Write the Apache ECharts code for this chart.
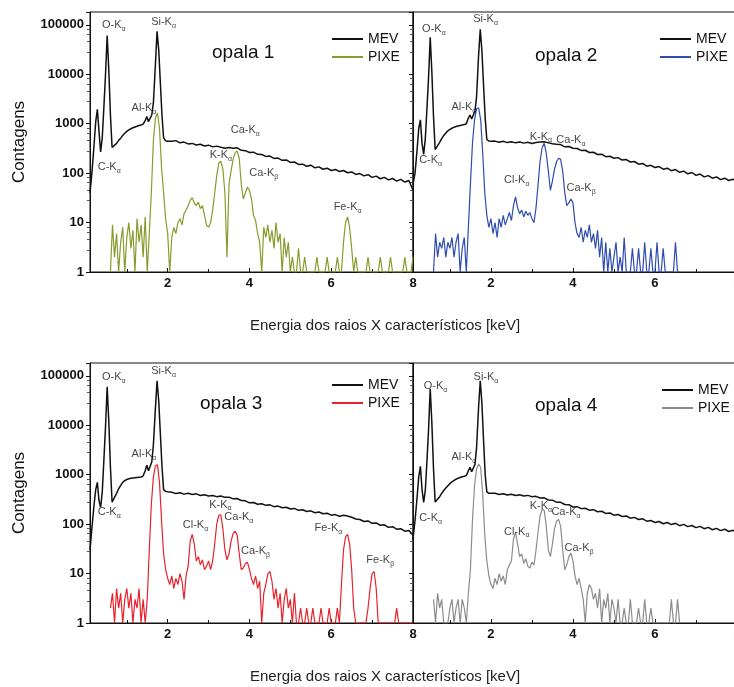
<!DOCTYPE html>
<html>
<head>
<meta charset="utf-8">
<script src="https://cdn.jsdelivr.net/npm/echarts@6/dist/echarts.min.js"></script>
<style>
  html, body { margin: 0; padding: 0; background: #fff; }
  #chart { width: 734px; height: 687px; }
</style>
</head>
<body>
<div id="chart"></div>
<script>
// energia (keV) dos canais MEV
var mevEnergy = [
  0.10,0.15,0.20,0.24,0.28,0.32,0.36,0.40,0.44,0.48,
  0.52,0.56,0.60,0.64,0.68,0.75,0.80,0.85,0.90,0.95,
  1.00,1.05,1.10,1.15,1.20,1.25,1.30,1.35,1.40,1.45,
  1.49,1.53,1.57,1.61,1.65,1.70,1.74,1.78,1.82,1.86,
  1.90,1.95,2.00,
  2.1,2.2,2.3,2.4,2.5,2.6,2.7,2.8,2.9,3.0,
  3.1,3.2,3.3,3.4,3.5,3.6,3.7,3.8,3.9,4.0,
  4.1,4.2,4.3,4.4,4.5,4.6,4.7,4.8,4.9,5.0,
  5.1,5.2,5.3,5.4,5.5,5.6,5.7,5.8,5.9,6.0,
  6.1,6.2,6.3,6.4,6.5,6.6,6.7,6.8,6.9,7.0,
  7.1,7.2,7.3,7.4,7.5,7.6,7.7,7.8,7.9,8.0
];
var mev1 = [
  40,110,380,1100,1950,700,270,520,2200,10000,
  61000,12000,1500,330,330,400,460,510,580,640,
  700,750,790,830,860,890,920,940,980,1150,
  1400,1100,1050,1500,2600,16000,74000,32000,7000,1500,
  520,450,440,
  440,455,410,425,390,400,372,385,355,368,
  340,352,335,320,330,318,325,290,285,262,
  266,240,238,218,222,198,202,182,185,165,
  168,150,152,138,145,128,134,120,126,113,
  119,108,113,102,106,94,98,88,93,82,
  87,77,82,73,78,69,75,66,71,45
];
var mev2 = [
  60,100,300,800,1200,400,240,500,2000,9000,
  56000,11000,1400,300,320,420,500,580,650,720,
  770,810,850,880,900,920,940,960,1000,1300,
  1500,1250,1200,1800,3500,25000,81000,30000,6000,1300,
  480,445,440,
  445,420,440,415,432,410,428,405,420,398,
  415,425,430,410,395,385,378,340,345,318,
  315,288,290,262,265,238,242,215,220,200,
  206,184,188,168,172,152,157,138,144,130,
  136,120,126,112,118,104,110,97,103,90,
  96,84,89,79,84,74,79,71,75,70
];
var mev3 = [
  30,90,250,500,700,300,218,450,2000,9500,
  60000,12000,1400,280,300,420,520,610,700,760,
  800,830,850,860,870,880,890,900,950,1200,
  1550,1200,1120,1800,4000,22000,79000,32000,7000,1500,
  500,460,450,
  440,415,432,405,420,398,410,380,392,372,
  380,360,372,348,352,325,330,300,296,270,
  274,252,258,240,246,226,232,214,220,202,
  208,190,196,180,186,170,176,162,166,152,
  156,144,152,146,138,127,124,113,116,104,
  106,95,97,86,89,79,81,72,74,60
];
var mev4 = [
  50,120,350,900,1480,500,275,480,1900,8500,
  55000,11000,1300,280,300,360,420,480,540,600,
  660,720,770,810,850,880,910,930,960,1200,
  1420,1150,1120,1600,3500,24000,79000,28000,5000,1000,
  450,420,420,
  420,398,412,388,402,380,392,370,382,360,
  365,338,340,308,306,278,276,250,248,222,
  226,206,210,192,196,178,182,165,168,152,
  157,143,146,132,137,124,128,115,119,108,
  113,102,108,98,104,93,99,89,94,85,
  90,81,86,77,82,74,79,71,75,68
];

// energia (keV) dos canais PIXE
var pixeEnergy = [
  0.55,0.60,0.65,0.70,0.75,0.80,0.85,0.90,0.95,1.00,
  1.05,1.10,1.15,1.20,1.25,1.30,1.35,1.40,1.45,1.50,
  1.55,1.60,1.65,1.70,1.75,1.80,1.85,1.90,1.95,2.00,
  2.05,2.10,2.15,2.20,2.25,2.30,2.35,2.40,2.45,2.50,
  2.55,2.60,2.65,2.70,2.75,2.80,2.85,2.90,2.95,3.00,
  3.05,3.10,3.15,3.20,3.25,3.30,3.35,3.40,3.45,3.50,
  3.55,3.60,3.65,3.70,3.75,3.80,3.85,3.90,3.95,4.00,
  4.05,4.10,4.15,4.20,4.25,4.30,4.35,4.40,4.45,4.50,
  4.55,4.60,4.65,4.70,4.75,4.80,4.85,4.90,4.95,5.00,
  5.05,5.10,5.15,5.20,5.25,5.30,5.35,5.40,5.45,5.50,
  5.55,5.60,5.65,5.70,5.75,5.80,5.85,5.90,5.95,6.00,
  6.05,6.10,6.15,6.20,6.25,6.30,6.35,6.40,6.45,6.50,
  6.55,6.60,6.65,6.70,6.75,6.80,6.85,6.90,6.95,7.00,
  7.05,7.10,7.15,7.20,7.25,7.30,7.35,7.40,7.45,7.50,
  7.55,7.60,7.65,7.70,7.75,7.80,7.85,7.90,7.95,8.00
];
var pixe1 = [
  null,1,9,2,6,1,4,8,1,5,
  10,3,7,1,12,4,9,2,13,1,
  6,40,450,1300,1650,800,130,40,12,6,
  1,5,8,6,10,12,9,15,18,22,
  28,32,25,22,26,19,22,14,9,8,
  10,18,40,90,160,175,120,40,2,60,
  110,190,260,280,200,60,30,40,52,45,
  30,14,11,6,4,1,8,5,9,4,
  7,3,10,4,6,1,5,2,4,1,
  2,1,1,3,1,1,2,1,1,1,
  1,1,2,1,1,1,1,2,1,1,
  1,1,2,1,1,4,10,13,8,3,
  1,2,1,1,1,1,1,2,1,1,
  1,1,1,2,1,1,1,1,2,1,
  1,1,1,1,1,2,1,1,1,2
];
var pixe2 = [
  null,1,6,2,4,3,5,2,4,3,
  5,2,4,6,1,3,5,1,8,60,
  400,1200,2000,2100,1200,250,40,14,8,12,
  6,10,5,12,8,14,9,12,16,11,
  22,33,20,15,18,13,17,14,16,12,
  10,20,60,180,330,400,250,110,45,70,
  120,170,200,190,110,40,22,25,30,25,
  10,6,5,8,4,7,5,9,4,6,
  3,7,2,5,1,4,1,3,1,2,
  4,1,2,1,5,1,1,1,3,1,
  1,3,1,1,4,1,1,3,1,1,
  4,1,1,3,1,1,1,1,1,4,
  1,1,null,null,null,null,null,null,null,null,
  null,null,null,null,null,null,null,null,null,null,
  null,null,null,null,null,null,null,null,null,null
];
var pixe3 = [
  null,2,4,1,5,2,4,1,3,5,
  2,4,1,3,2,5,1,3,1,3,
  30,250,900,1500,1600,700,120,25,12,8,
  6,9,5,8,6,10,7,3,9,14,
  45,62,40,18,22,15,19,12,14,18,
  12,18,40,100,150,155,80,30,19,25,
  45,65,72,60,25,12,13,16,17,12,
  8,6,9,5,7,1,4,6,10,11,
  7,3,5,2,4,1,3,5,2,3,
  1,4,1,1,2,1,1,2,1,1,
  2,1,1,1,2,1,1,1,2,1,
  1,1,2,1,6,30,55,62,40,12,
  2,1,1,1,1,1,1,2,5,10,
  11,5,1,1,1,1,1,1,1,1,
  1,2,1,1,1,1,1,1,1,1
];
var pixe4 = [
  null,3,1,4,2,3,1,1,1,2,
  3,1,2,3,1,3,2,1,4,12,
  120,600,1300,1650,1400,400,60,18,9,6,
  5,8,6,10,7,9,6,12,15,18,
  50,68,40,22,25,16,20,14,13,17,
  15,30,70,150,200,190,90,30,22,40,
  80,115,125,90,30,12,15,22,26,18,
  9,6,8,5,3,1,4,6,5,3,
  4,2,5,1,3,2,4,1,3,2,
  1,3,1,1,2,1,1,3,1,1,
  1,2,1,1,3,1,1,2,1,1,
  1,1,1,1,1,1,1,3,1,1,
  3,1,null,null,null,null,null,null,null,null,
  null,null,null,null,null,null,null,null,null,null,
  null,null,null,null,null,null,null,null,null,null
];

// identificação dos picos: [elemento, linha, energia, contagens]
var picos1 = [['O-K','α',0.68,100000],['Si-K','α',1.9,112000],['Al-K','α',1.42,2100],['C-K','α',0.57,135],
  ['Ca-K','α',3.9,760],['K-K','α',3.3,235],['Ca-K','β',4.35,100],['Fe-K','α',6.4,21]];
var picos2 = [['O-K','α',0.61,81000],['Si-K','α',1.87,129000],['Al-K','α',1.34,2200],['C-K','α',0.53,187],
  ['K-K','α',3.22,550],['Ca-K','α',3.95,475],['Cl-K','α',2.63,74],['Ca-K','β',4.2,50]];
var picos3 = [['O-K','α',0.68,95000],['Si-K','α',1.9,126000],['Al-K','α',1.42,2600],['C-K','α',0.57,173],
  ['K-K','α',3.29,250],['Ca-K','α',3.74,142],['Cl-K','α',2.68,98],['Ca-K','β',4.15,28],
  ['Fe-K','α',5.93,85],['Fe-K','β',7.2,19]];
var picos4 = [['O-K','α',0.65,63000],['Si-K','α',1.88,95000],['Al-K','α',1.34,2250],['C-K','α',0.53,135],
  ['K-K','α',3.22,229],['Ca-K','α',3.83,173],['Cl-K','α',2.63,71],['Ca-K','β',4.15,33]];

var amostras = ['opala 1','opala 2','opala 3','opala 4'];
var yTickLabels = ['1','10','100','1000','10000','100000'];
var xTickLabels = ['2','4','6','8'];

var mevs = [mev1, mev2, mev3, mev4];
var pixes = [pixe1, pixe2, pixe3, pixe4];
var picos = [picos1, picos2, picos3, picos4];
var corPixe = ['#8a9a2c', '#2f4cb0', '#e8222c', '#8c8c8c'];
var fonte = 'Liberation Sans, Arial, sans-serif';

// posicao de cada painel
var paineis = [
  {left: 90, top: 12, width: 323, height: 260},
  {left: 413, top: 12, width: 324, height: 260},
  {left: 90, top: 363, width: 323, height: 260},
  {left: 413, top: 363, width: 324, height: 260}
];
var posLegenda = [[327, 27], [655, 27], [327, 373], [657, 378]];
var posTitulo = [[212, 43], [535, 46], [200, 394], [535, 396]];

function pares(xs, ys) {
  return xs.map(function (x, i) { return [x, ys[i]]; });
}

var grid = [], xAxis = [], yAxis = [], series = [], legend = [], title = [];

paineis.forEach(function (p, i) {
  var esquerda = (i % 2 === 0);
  grid.push({left: p.left, top: p.top, width: p.width, height: p.height,
    outerBoundsMode: 'none', containLabel: false,
    show: true, borderColor: '#111', borderWidth: 1, backgroundColor: 'transparent'});
  xAxis.push({
    type: 'value', gridIndex: i, min: 0.1, max: 8, splitNumber: 4,
    axisLine: {lineStyle: {color: '#111', width: 1}},
    axisTick: {inside: true, length: 4, lineStyle: {color: '#111'}},
    minorTick: {show: true, splitNumber: 2, length: 3, lineStyle: {color: '#111'}},
    splitLine: {show: false},
    axisLabel: {
      margin: 5, fontSize: 13, fontWeight: 'bold', color: '#111', fontFamily: fonte,
      showMinLabel: false,
      formatter: function (v) {
        var s = String(Math.round(v));
        return (Math.abs(v - Math.round(v)) < 1e-6 && xTickLabels.indexOf(s) >= 0) ? s : '';
      }
    }
  });
  yAxis.push({
    type: 'log', logBase: 10, gridIndex: i, min: 1, max: 182000,
    name: esquerda ? 'Contagens' : '',
    nameLocation: 'middle', nameGap: 62,
    nameTextStyle: {fontSize: 17, color: '#111', fontFamily: fonte},
    axisLine: {show: true, lineStyle: {color: '#111', width: 1}},
    axisTick: {inside: false, length: 4, lineStyle: {color: '#111'}},
    minorTick: {show: true, splitNumber: 5, length: 3, lineStyle: {color: '#555'}},
    splitLine: {show: false},
    axisLabel: {
      show: esquerda, margin: 6, fontSize: 13, fontWeight: 'bold', color: '#111', fontFamily: fonte,
      showMaxLabel: false,
      formatter: function (v) {
        var s = String(Math.round(v));
        return (Math.abs(v - Math.round(v)) < 0.01 && yTickLabels.indexOf(s) >= 0) ? s : '';
      }
    }
  });
  series.push({
    name: 'MEV', type: 'line', xAxisIndex: i, yAxisIndex: i,
    data: pares(mevEnergy, mevs[i]), showSymbol: false, symbol: 'none',
    color: '#111', lineStyle: {color: '#111', width: 1.5}, z: 2
  });
  series.push({
    name: 'PIXE', type: 'line', xAxisIndex: i, yAxisIndex: i,
    data: pares(pixeEnergy, pixes[i]), showSymbol: false, symbol: 'none', connectNulls: false,
    color: corPixe[i], lineStyle: {color: corPixe[i], width: 1.2}, z: 3
  });
  series.push({
    name: 'picos', type: 'scatter', xAxisIndex: i, yAxisIndex: i, silent: true,
    symbolSize: 1, itemStyle: {color: 'transparent'}, z: 4,
    data: picos[i].map(function (d) { return [d[2], d[3], d[0], d[1]]; }),
    label: {
      show: true, position: 'inside',
      formatter: function (prm) { return '{n|' + prm.data[2] + '}{s|' + prm.data[3] + '}'; },
      rich: {
        n: {fontSize: 11, color: '#111', fontFamily: fonte},
        s: {fontSize: 7, color: '#111', fontFamily: fonte, padding: [8, 0, 0, 0]}
      }
    }
  });
  legend.push({
    orient: 'vertical', left: posLegenda[i][0], top: posLegenda[i][1],
    itemWidth: 31, itemHeight: 2, itemGap: 4, icon: 'rect', selectedMode: false,
    textStyle: {fontSize: 14, color: '#111', fontFamily: fonte},
    data: [
      {name: 'MEV', itemStyle: {color: '#111'}, lineStyle: {color: '#111', width: 1.3}},
      {name: 'PIXE', itemStyle: {color: corPixe[i]}, lineStyle: {color: corPixe[i], width: 1.3}}
    ]
  });
  title.push({
    text: amostras[i], left: posTitulo[i][0], top: posTitulo[i][1], padding: 0,
    textStyle: {fontSize: 19, fontWeight: 'normal', color: '#111', fontFamily: fonte}
  });
});

title.push({text: 'Energia dos raios X característicos [keV]', left: 250, top: 318, padding: 0,
  textStyle: {fontSize: 15, fontWeight: 'normal', color: '#222', fontFamily: fonte}});
title.push({text: 'Energia dos raios X característicos [keV]', left: 250, top: 669, padding: 0,
  textStyle: {fontSize: 15, fontWeight: 'normal', color: '#222', fontFamily: fonte}});

var chart = echarts.init(document.getElementById('chart'));
chart.setOption({
  animation: false,
  backgroundColor: '#fff',
  title: title,
  legend: legend,
  grid: grid,
  xAxis: xAxis,
  yAxis: yAxis,
  series: series
});
</script>
</body>
</html>
